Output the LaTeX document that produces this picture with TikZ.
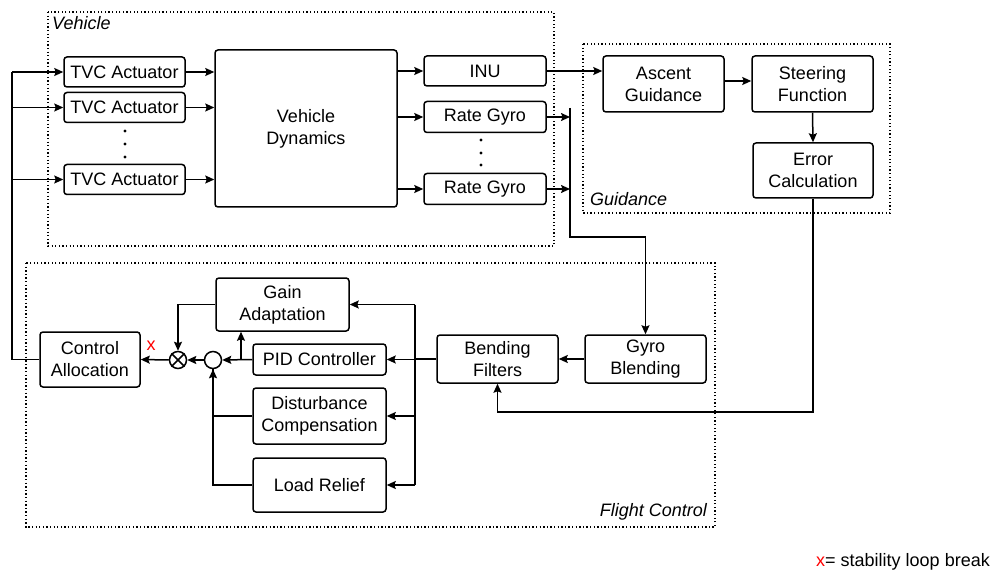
\documentclass[tikz,border=0pt]{standalone}
\usepackage{fontspec}
\setmainfont{Liberation Sans}
\usetikzlibrary{arrows.meta,calc}

\newcommand{\blkfont}{\fontsize{18}{22}\selectfont}

\begin{document}
\begin{tikzpicture}[x=1pt,y=-1pt,
  block/.style={draw, line width=1.5pt, rounded corners=3pt, align=center,
    inner sep=0pt, font=\blkfont},
  junction/.style={draw, circle, line width=1.5pt, inner sep=0pt, minimum size=17pt},
  wire/.style={line width=1.5pt},
  arr/.style={wire, -{Stealth[length=9pt,width=8pt,inset=1.5pt]}},
  groupbox/.style={line width=1.3pt, dash pattern=on 1.3pt off 2.3pt},
  grouplabel/.style={font=\blkfont\itshape, inner sep=0pt},
  vdots/.style={fill=black}
]
\useasboundingbox (0,0) rectangle (993,580);

% ---- group frames ----
\draw[groupbox] (48,12) rectangle (554,246);
\draw[groupbox] (583,44) rectangle (890,213);
\draw[groupbox] (26,263) rectangle (715,527);
\node[grouplabel, anchor=west] (lblVeh) at (52,23) {Vehicle};
\node[grouplabel, anchor=west] (lblGui) at (590,199) {Guidance};
\node[grouplabel, anchor=east] (lblFc) at (707,512) {Flight Control};

% ---- vehicle ----
\node[block, minimum width=121pt, minimum height=30pt] (tvc1) at (124.5,72) {TVC Actuator};
\node[block, minimum width=121pt, minimum height=30pt] (tvc2) at (124.5,107.5) {TVC Actuator};
\node[block, minimum width=121pt, minimum height=30pt] (tvc3) at (124.5,179.5) {TVC Actuator};
\foreach \yy in {131,144,157} \fill[vdots] (125,\yy) circle (1.6pt);

\node[block, minimum width=182pt, minimum height=157pt] (vd) at (306,128.5) {Vehicle\\Dynamics};

\node[block, minimum width=122pt, minimum height=30pt] (inu) at (485,71) {INU};
\node[block, minimum width=122pt, minimum height=31pt] (rg1) at (485,117) {Rate Gyro};
\node[block, minimum width=122pt, minimum height=31pt] (rg2) at (485,189) {Rate Gyro};
\foreach \yy in {140,153,165} \fill[vdots] (481,\yy) circle (1.6pt);

% ---- guidance ----
\node[block, minimum width=121pt, minimum height=56pt] (asc) at (663.5,84) {Ascent\\Guidance};
\node[block, minimum width=121pt, minimum height=56pt] (ste) at (812.5,84) {Steering\\Function};
\node[block, minimum width=120pt, minimum height=55pt] (err) at (813,170.5) {Error\\Calculation};

% ---- flight control ----
\node[block, minimum width=100pt, minimum height=55pt] (ca) at (90,359.5) {Control\\Allocation};
\node[junction] (mul) at (178,360) {};
\draw[line width=1.5pt] (mul.45) -- (mul.225) (mul.135) -- (mul.315);
\node[junction] (sum) at (213,360) {};
\node[block, minimum width=133pt, minimum height=53pt] (gain) at (282.5,304.5) {Gain\\Adaptation};
\node[block, minimum width=133pt, minimum height=31pt] (pid) at (319.5,359.5) {PID Controller};
\node[block, minimum width=133pt, minimum height=56pt] (dist) at (319.5,416) {Disturbance\\Compensation};
\node[block, minimum width=133pt, minimum height=54pt] (lr) at (319.5,485) {Load Relief};
\node[block, minimum width=121pt, minimum height=48pt] (bf) at (497.5,359) {Bending\\Filters};
\node[block, minimum width=121pt, minimum height=48pt] (gb) at (645.5,359) {Gyro\\Blending};

\node[font=\blkfont, text=red, inner sep=0pt] (brk) at (151,346) {x};

% ---- routing points ----
\coordinate (busL) at (12,0);
\coordinate (gbusTop) at (570,108);
\coordinate (gbusBot) at (570,237);
\coordinate (ret) at (0,412);
\coordinate (fbus) at (415,0);
\coordinate (br) at (241,0);

% ---- actuator command bus ----
\draw[wire] (ca.west) -| (busL |- tvc1.west);
\draw[arr] (busL |- tvc1.west) -- (tvc1.west);
\draw[arr] (busL |- tvc2.west) -- (tvc2.west);
\draw[arr] (busL |- tvc3.west) -- (tvc3.west);

\draw[arr] (tvc1.east) -- (tvc1.east -| vd.west);
\draw[arr] (tvc2.east) -- (tvc2.east -| vd.west);
\draw[arr] (tvc3.east) -- (tvc3.east -| vd.west);

\draw[arr] (vd.east |- inu.west) -- (inu.west);
\draw[arr] (vd.east |- rg1.west) -- (rg1.west);
\draw[arr] (vd.east |- rg2.west) -- (rg2.west);

% ---- sensor paths ----
\draw[arr] (inu.east) -- (inu.east -| asc.west);
\draw[arr] (rg1.east) -- (rg1.east -| gbusTop);
\draw[arr] (rg2.east) -- (rg2.east -| gbusTop);
\draw[arr] (gbusTop) -- (gbusBot) -| (gb.north);

\draw[arr] ($(asc.east)+(0,-3)$) -- ($(ste.west)+(0,-3)$);
\draw[arr] (ste.south) -- (err.north);
\draw[arr] (err.south) -- (err.south |- ret) -| (bf.south);

\draw[arr] (gb.west) -- (bf.east);

% ---- control law fan-out ----
\draw[wire] (bf.west) -- (bf.west -| fbus);
\draw[wire] (fbus |- gain.east) -- (fbus |- lr.east);
\draw[arr] (fbus |- gain.east) -- (gain.east);
\draw[arr] (fbus |- pid.east) -- (pid.east);
\draw[arr] (fbus |- dist.east) -- (dist.east);
\draw[arr] (fbus |- lr.east) -- (lr.east);

\draw[arr] (pid.west) -- (sum.east);
\draw[arr] (br |- pid.west) -- (br |- gain.south);
\draw[wire] (dist.west) -| (sum.south);
\draw[arr] (lr.west) -| (sum.south);
\draw[arr] (sum.west) -- (mul.east);
\draw[arr] (gain.west) -| (mul.north);
\draw[arr] (mul.west) -- (ca.east);

% ---- legend ----
\node[font=\blkfont, anchor=east, inner sep=0pt] (legend) at (990,562) {\textcolor{red}{x}= stability loop break};
\end{tikzpicture}
\end{document}
